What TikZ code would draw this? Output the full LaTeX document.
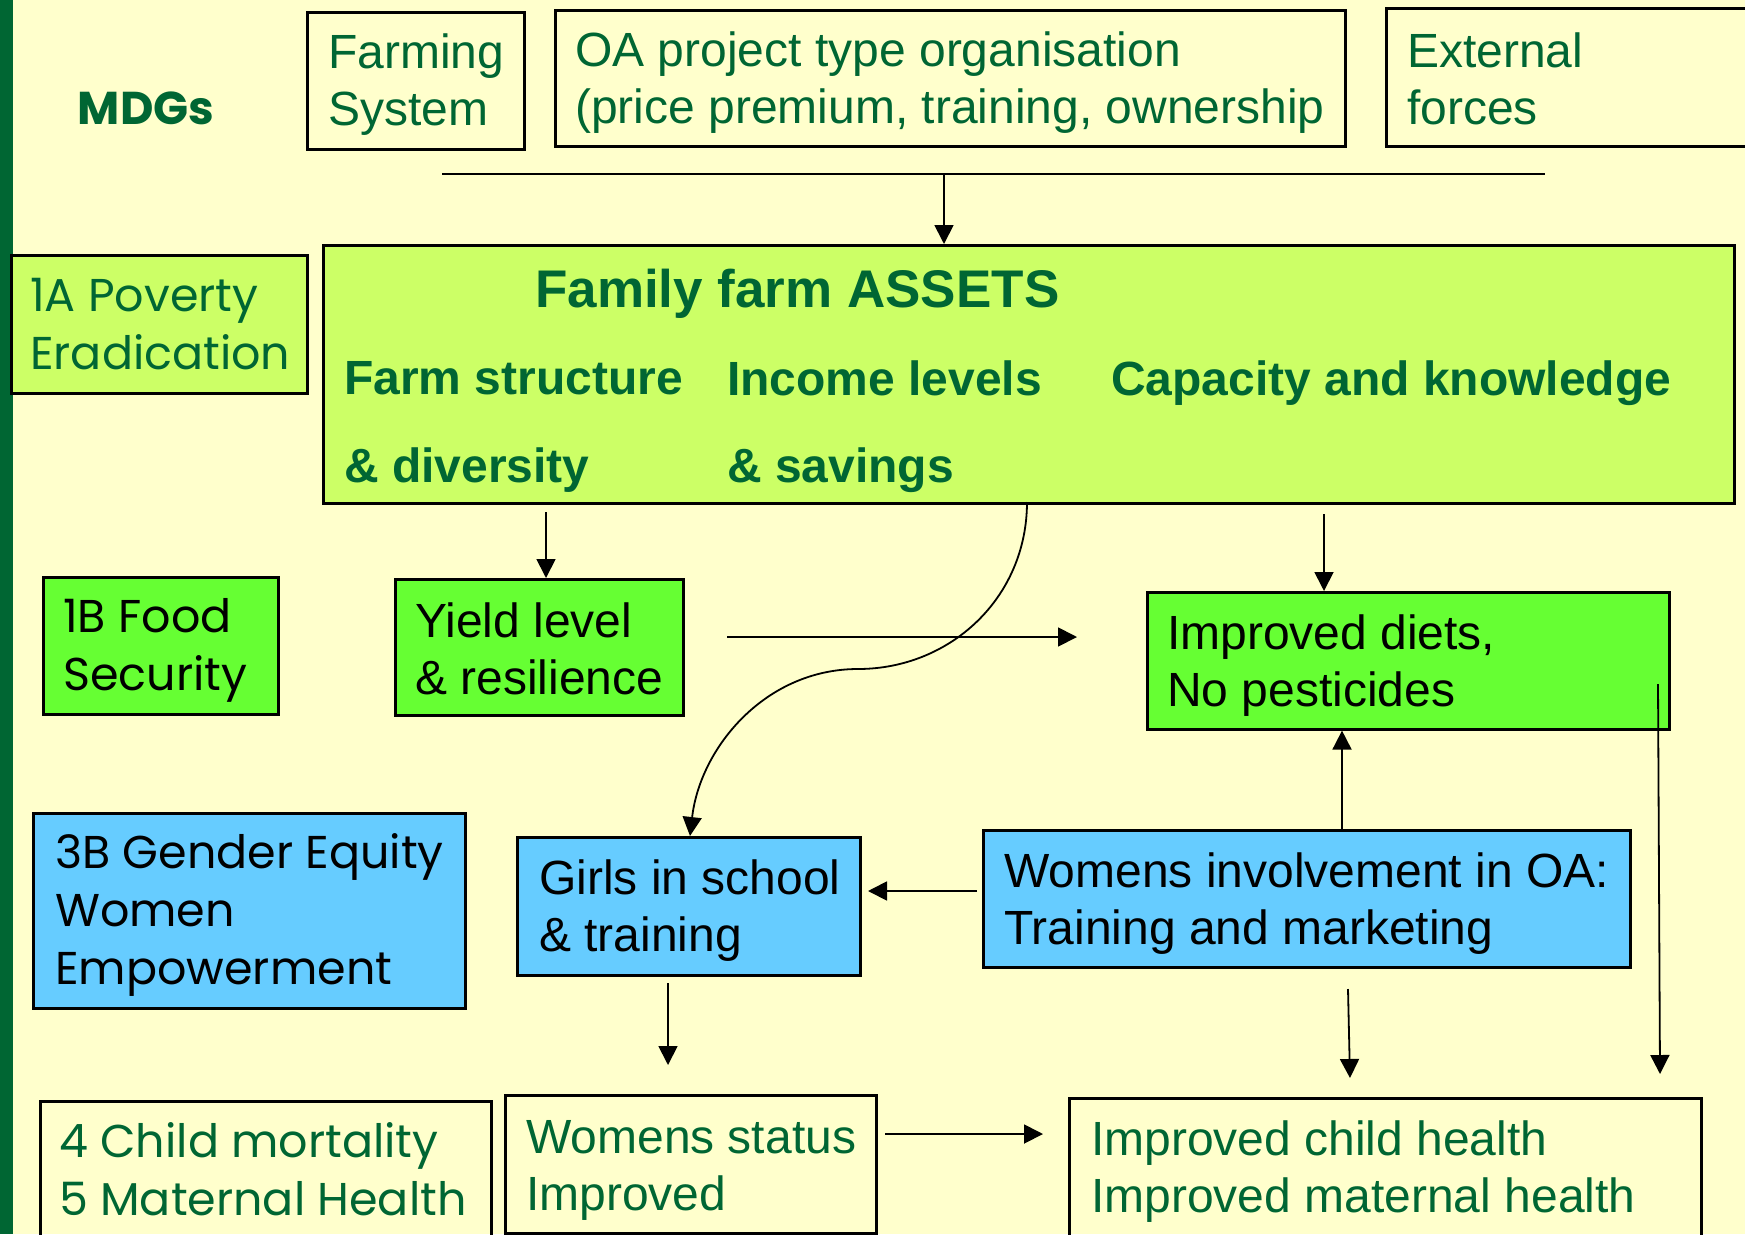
\documentclass[tikz,border=0pt]{standalone}
\usepackage{fontspec}
\setmainfont{Liberation Sans}
\newfontfamily\comic{Poppins}
\usetikzlibrary{arrows.meta}
\definecolor{bg}{HTML}{FFFFCC}
\definecolor{dkgreen}{HTML}{006633}
\definecolor{limefill}{HTML}{CCFF66}
\definecolor{brightfill}{HTML}{66FF33}
\definecolor{skyfill}{HTML}{66CCFF}
\tikzset{
  boxshape/.style={draw=black, line width=2.6pt, rectangle, anchor=north west, inner sep=0pt},
  txt/.style={anchor=west, inner sep=0pt, align=left, font=\fontsize{48}{57}\selectfont},
  ctxt/.style={anchor=west, inner sep=0pt, align=left, font=\comic\fontsize{46}{58}\selectfont},
  btxt/.style={anchor=west, inner sep=0pt, align=left, text=dkgreen, font=\bfseries\fontsize{48}{57}\selectfont},
  ar/.style={line width=1.8pt, -{Triangle[length=19pt,width=19pt]}},
  plain/.style={line width=1.8pt}
}
\begin{document}
\begin{tikzpicture}[x=1pt,y=-1pt]
\useasboundingbox (0,0) rectangle (1745,1234);
\fill[bg] (0,0) rectangle (1745,1234);
\fill[dkgreen] (0,0) rectangle (13,1234);

% MDGs title
\node[anchor=center, inner sep=0pt, text=dkgreen, font=\comic\bfseries\fontsize{46}{55}\selectfont] (mdgs) at (146,108) {MDGs};

% top row
\node[boxshape, minimum width=217pt, minimum height=137pt] (farm) at (306,11) {};
\node[txt, text=dkgreen] (farmt) at (328,85) {Farming\\System};
\node[boxshape, minimum width=790pt, minimum height=136pt] (oa) at (554,9) {};
\node[txt, text=dkgreen] (oat) at (575,83) {OA project type organisation\\(price premium, training, ownership};
\node[boxshape, minimum width=380pt, minimum height=138pt] (ext) at (1385,7) {};
\node[txt, text=dkgreen] (extt) at (1407,78.5) {External\\forces};

\coordinate (hl1) at (442,174);
\coordinate (hl2) at (1545,174);
\coordinate (hlm) at (944,174);
\draw[plain] (hl1) -- (hl2);

% big assets box
\node[boxshape, fill=limefill, minimum width=1411pt, minimum height=258pt] (assets) at (322,244) {};
\draw[ar] (hlm) -- (hlm |- assets.north);
\node[btxt, font=\bfseries\fontsize{53}{60}\selectfont] (title) at (535,294) {Family farm ASSETS};
\node[btxt] (fs1) at (344,378) {Farm structure};
\node[btxt] (fs2) at (344,470) {\& diversity};
\node[btxt] (in1) at (727,378) {Income levels};
\node[btxt] (in2) at (727,470) {\& savings};
\node[btxt] (cap) at (1111,383) {Capacity and knowledge};

% MDG boxes
\node[boxshape, fill=limefill, minimum width=296pt, minimum height=138pt] (p1a) at (10,254) {};
\node[ctxt, text=dkgreen] (p1at) at (30,324) {1A Poverty\\Eradication};
\node[boxshape, fill=brightfill, minimum width=235pt, minimum height=137pt] (p1b) at (42,576) {};
\node[ctxt, text=black] (p1bt) at (63,650) {1B Food\\Security};
\node[boxshape, fill=skyfill, minimum width=432pt, minimum height=195pt] (p3b) at (32,812) {};
\node[ctxt, text=black] (p3bt) at (55,915) {3B Gender Equity\\Women\\Empowerment};
\node[boxshape, minimum width=451pt, minimum height=150pt] (p4) at (39,1100) {};
\node[ctxt, text=dkgreen] (p4t) at (59,1169.5) {4 Child mortality\\5 Maternal Health};

% middle boxes
\node[boxshape, fill=brightfill, minimum width=288pt, minimum height=136pt] (yield) at (394,578) {};
\node[txt, text=black] (yieldt) at (415,648.5) {Yield level\\\& resilience};
\node[boxshape, fill=brightfill, minimum width=522pt, minimum height=137pt] (diets) at (1146,591) {};
\node[txt, text=black] (dietst) at (1167,665.5) {Improved diets,\\No pesticides};
\node[boxshape, fill=skyfill, minimum width=343pt, minimum height=138pt] (girls) at (516,836) {};
\node[txt, text=black] (girlst) at (539,911) {Girls in school\\\& training};
\node[boxshape, fill=skyfill, minimum width=647pt, minimum height=137pt] (women) at (982,829) {};
\node[txt, text=black] (woment) at (1004,903.5) {Womens involvement in OA:\\Training and marketing};
\node[boxshape, minimum width=371pt, minimum height=138pt] (status) at (504,1094) {};
\node[txt, text=dkgreen] (statust) at (526,1170) {Womens status\\Improved};
\node[boxshape, minimum width=632pt, minimum height=150pt] (child) at (1068,1097) {};
\node[txt, text=dkgreen] (childt) at (1091,1172) {Improved child health\\Improved maternal health};

% connectors
\coordinate (y0) at (546,512);
\draw[ar] (y0) -- (y0 |- yield.north);
\coordinate (h0) at (727,637);
\coordinate (h1) at (1077,637);
\draw[ar] (h0) -- (h1);
\coordinate (c0) at (1027,502);
\coordinate (cm) at (858,669);
\coordinate (c1) at (690,836);
\draw[ar] (c0) .. controls (1027,598) and (950,669) .. (cm) .. controls (765,669) and (700,748) .. (c1);
\coordinate (d0) at (1324,514);
\draw[ar] (d0) -- (d0 |- diets.north);
\coordinate (wx) at (1342,0);
\draw[ar] (women.north -| wx) -- (diets.south -| wx);
\coordinate (wg0) at (977,891);
\coordinate (wg1) at (868,891);
\draw[ar] (wg0) -- (wg1);
\coordinate (gd0) at (668,983);
\coordinate (gd1) at (668,1065);
\draw[ar] (gd0) -- (gd1);
\coordinate (sc0) at (885,1134);
\coordinate (sc1) at (1043,1134);
\draw[ar] (sc0) -- (sc1);
\coordinate (wd0) at (1348,989);
\coordinate (wd1) at (1350,1078);
\draw[ar] (wd0) -- (wd1);
\coordinate (ld0) at (1658,684);
\coordinate (ld1) at (1660,1074);
\draw[ar] (ld0) -- (ld1);
\end{tikzpicture}
\end{document}
